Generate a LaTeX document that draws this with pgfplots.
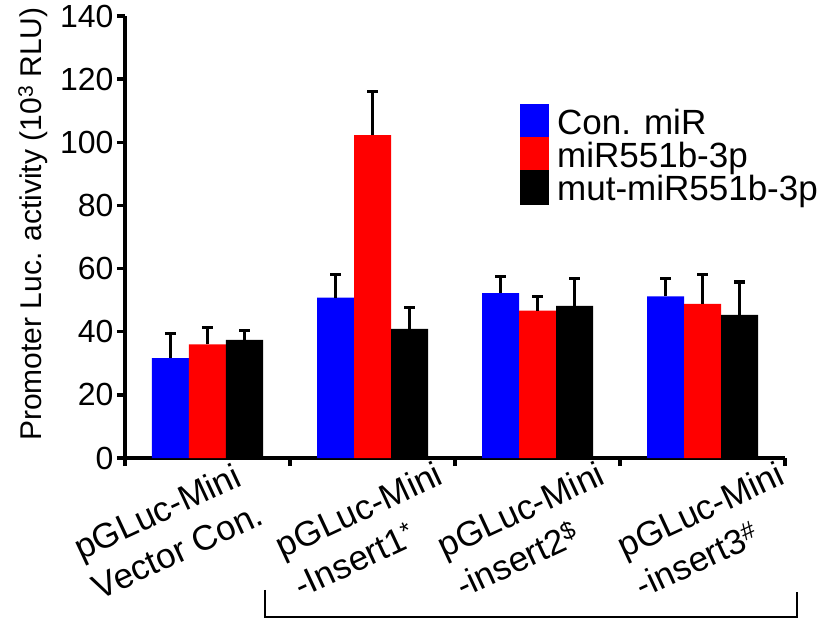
\documentclass[border=0pt]{standalone}
\usepackage{pgfplots}
\pgfplotsset{compat=1.18}
\usepackage{fontspec}
\setmainfont{Liberation Sans}
\begin{document}
\begin{tikzpicture}
\useasboundingbox (-125pt,-161pt) rectangle (713pt,458pt);
\begin{axis}[
  at={(0pt,0pt)}, anchor=south west,
  scale only axis, width=660pt, height=442pt,
  xmin=-0.5, xmax=3.5, ymin=0, ymax=140,
  ybar=0pt, bar width=37pt,
  axis lines*=left,
  axis line style={line width=3.8pt, black},
  tick style={line width=3.5pt, black},
  major tick style={line width=3.5pt, black},
  tick align=outside, major tick length=8pt,
  ytick={0,20,...,140},
  xtick={-0.5,0.5,1.5,2.5,3.5}, xticklabels={,,,,},
  extra x ticks={0.17,1.37,2.35,3.44},
  extra x tick labels={pGLuc-Mini\\Vector Con., pGLuc-Mini\\-Insert1\textsuperscript{*}, pGLuc-Mini\\-insert2\textsuperscript{\$}, pGLuc-Mini\\-insert3\textsuperscript{\#}},
  extra x tick style={major tick length=0pt, xticklabel style={rotate=25, anchor=north east, align=left, inner sep=0pt, yshift=-2pt, font=\fontsize{35}{44}\selectfont}},
  /pgf/number format/assume math mode=true,
  yticklabel style={font=\fontsize{32}{32}\selectfont},
  ylabel={Promoter Luc. activity (10\textsuperscript{3} RLU)},
  ylabel style={at={(axis description cs:-0.1258,0.529)}, anchor=base, font=\fontsize{30}{30}\selectfont},
  clip=false,
  legend style={at={(axis description cs:0.5985,0.801)}, anchor=north west, draw=none, fill=none, inner sep=0pt, row sep=-2pt, font=\fontsize{35}{35}\selectfont, nodes={inner sep=0pt}},
  legend cell align=left,
  legend image code/.code={\fill[#1] (0pt,-17pt) rectangle (29pt,18pt); \path (37pt,0pt);},
  error bars/y dir=plus, error bars/y explicit,
  error bars/error bar style={black, line width=3pt},
  error bars/error mark=-,
  error bars/error mark options={black, rotate=90, line width=3.5pt, mark size=5.5pt},
]
\addplot[fill={rgb,255:red,0;green,0;blue,255}, draw=none] coordinates {(0,31.6) +- (0,7.9) (1,50.8) +- (0,7.4) (2,52.2) +- (0,5.3) (3,51.2) +- (0,5.6)};
\addplot[fill={rgb,255:red,255;green,0;blue,0}, draw=none] coordinates {(0,36.0) +- (0,5.4) (1,102.3) +- (0,13.8) (2,46.7) +- (0,4.5) (3,48.8) +- (0,9.3)};
\addplot[fill=black, draw=none] coordinates {(0,37.4) +- (0,3.0) (1,40.9) +- (0,6.7) (2,48.2) +- (0,8.6) (3,45.3) +- (0,10.4)};
\legend{Con. miR, miR551b-3p, mut-miR551b-3p}
\draw[line width=2.5pt] (axis cs:0.348,-41.8) -- (axis cs:0.348,-50.4) -- (axis cs:3.573,-50.4) -- (axis cs:3.573,-42.5);
\end{axis}
\end{tikzpicture}
\end{document}
